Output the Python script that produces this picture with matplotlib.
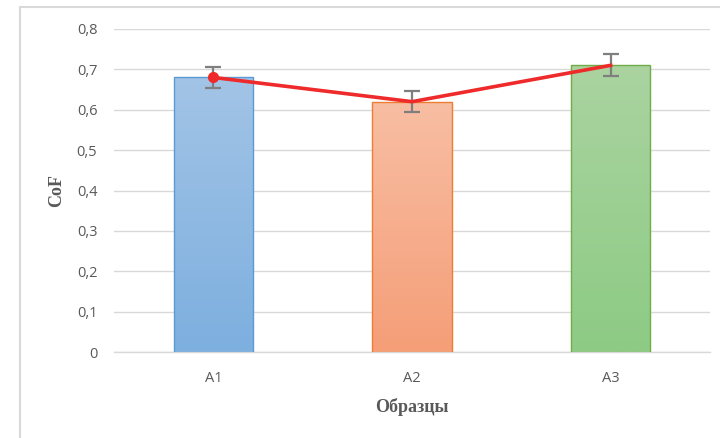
import matplotlib
matplotlib.use("Agg")
import matplotlib.pyplot as plt
import numpy as np
from matplotlib.colors import LinearSegmentedColormap
from matplotlib.patches import Rectangle

categories = ["A1", "A2", "A3"]
values = [0.68, 0.62, 0.71]
errors = [0.025, 0.026, 0.027]
yticks = [0, 0.1, 0.2, 0.3, 0.4, 0.5, 0.6, 0.7, 0.8]
ytick_labels = ["0", "0,1", "0,2", "0,3", "0,4", "0,5", "0,6", "0,7", "0,8"]

top_colors = ["#A2C4E6", "#F8BEA3", "#AAD3A0"]
bottom_colors = ["#7DAFDF", "#F59E78", "#8DCB84"]
edge_colors = ["#5B9BD5", "#ED7D31", "#70AD47"]

fig = plt.figure(figsize=(7.2, 4.38), dpi=100)
ax = fig.add_axes([114/720, 1-352/438, (710-114)/720, (352-29)/438])

x = np.arange(len(categories))
width = 0.40
bars = ax.bar(x, values, width=width, color="none", edgecolor=edge_colors,
              linewidth=1.0, zorder=3)
grad = np.linspace(0, 1, 256).reshape(-1, 1)
for i, b in enumerate(bars):
    cmap = LinearSegmentedColormap.from_list("g", [bottom_colors[i], top_colors[i]])
    im = ax.imshow(grad, cmap=cmap, origin="lower", aspect="auto",
                   extent=[b.get_x(), b.get_x()+b.get_width(), 0, b.get_height()],
                   zorder=2)
    im.set_clip_path(b)

ax.errorbar(x, values, yerr=errors, fmt="none", ecolor="#7F7F7F",
            elinewidth=1.6, capsize=6, capthick=1.6, zorder=4)
ax.plot(x, values, color="#EE2A2A", linewidth=2.6, zorder=5)
ax.plot(x[:1], values[:1], "o", color="#EE2A2A", markersize=7, zorder=6)

ax.set_xlim(-0.5, 2.5)
ax.set_ylim(0, 0.8)
ax.set_yticks(yticks)
ax.set_yticklabels(ytick_labels)
ax.set_xticks(x)
ax.set_xticklabels(categories)
ax.yaxis.grid(True, color="#D9D9D9", linewidth=1.0, zorder=0)
ax.set_axisbelow(True)
for s in ["top", "right", "left"]:
    ax.spines[s].set_visible(False)
ax.spines["bottom"].set_color("#D9D9D9")
ax.spines["bottom"].set_linewidth(1.0)
ax.tick_params(axis="both", length=0, colors="#595959", labelsize=10.5)
ax.tick_params(axis="y", pad=12)
ax.tick_params(axis="x", pad=14)
for lab in ax.get_xticklabels() + ax.get_yticklabels():
    lab.set_fontfamily("Open Sans")

ax.set_ylabel("CoF", family="Liberation Serif", fontweight="bold", fontsize=13,
              color="#595959", labelpad=8)
ax.set_xlabel("Образцы", family="Liberation Serif", fontweight="bold", fontsize=13,
              color="#595959", labelpad=8)

# outer chart frame
fig.patches.append(Rectangle((20/720, -0.05), 1.0, 1 - 7/438 + 0.05, transform=fig.transFigure,
                             fill=False, edgecolor="#D9D9D9", linewidth=1.5))

fig.savefig("out.png", dpi=100)
